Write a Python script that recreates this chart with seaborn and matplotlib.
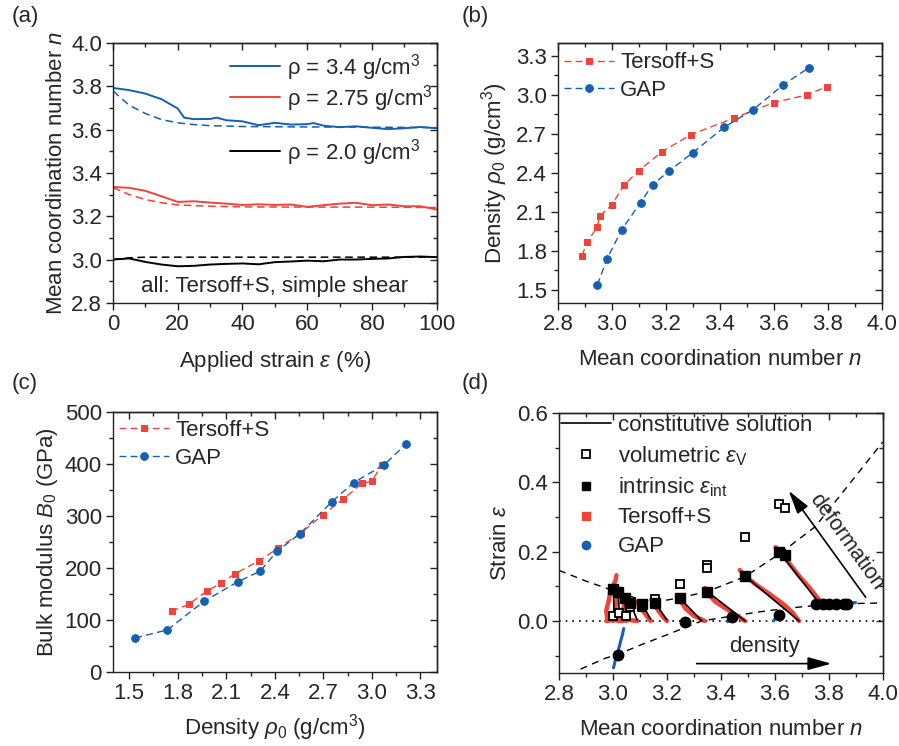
import numpy as np
import matplotlib
matplotlib.use("Agg")
import matplotlib.pyplot as plt
import seaborn as sns
from matplotlib.ticker import MultipleLocator
from matplotlib.lines import Line2D

# ---------------- data ----------------
# (a) coordination number vs applied strain
strain = [0, 5, 10, 15, 20, 22, 25, 30, 32, 35, 40, 45, 50, 55, 60, 62, 65, 70, 75, 80, 85, 90, 95, 100]
n_34 = [3.792, 3.782, 3.766, 3.740, 3.697, 3.655, 3.648, 3.649, 3.655, 3.643, 3.638, 3.620, 3.631,
        3.623, 3.625, 3.630, 3.618, 3.611, 3.615, 3.608, 3.602, 3.606, 3.612, 3.606]
strain_b = [0, 5, 10, 15, 20, 25, 30, 35, 40, 45, 50, 55, 60, 65, 70, 75, 80, 85, 90, 95, 100]
n_275 = [3.335, 3.331, 3.317, 3.292, 3.266, 3.269, 3.263, 3.258, 3.252, 3.255, 3.252, 3.254, 3.243,
         3.251, 3.258, 3.262, 3.251, 3.254, 3.246, 3.246, 3.231]
n_20 = [3.000, 3.005, 2.989, 2.977, 2.969, 2.971, 2.977, 2.980, 2.982, 2.978, 2.988, 2.991, 2.995,
        2.992, 3.000, 3.000, 3.003, 3.005, 3.012, 3.014, 3.011]
strain_fit = [0, 5, 10, 15, 20, 25, 30, 40, 60, 80, 100]
fit_34 = [3.778, 3.712, 3.674, 3.646, 3.631, 3.623, 3.618, 3.614, 3.612, 3.611, 3.609]
fit_275 = [3.332, 3.300, 3.277, 3.262, 3.252, 3.249, 3.246, 3.243, 3.242, 3.242, 3.240]
fit_20 = [3.000, 3.008, 3.011, 3.011, 3.011, 3.011, 3.011, 3.011, 3.011, 3.011, 3.011]

# (b), (c) Tersoff+S and GAP
ters_n = [2.889, 2.908, 2.945, 2.955, 3.000, 3.044, 3.100, 3.186, 3.294, 3.451, 3.601, 3.722, 3.796]
ters_rho = [1.762, 1.867, 1.982, 2.069, 2.154, 2.305, 2.418, 2.564, 2.695, 2.821, 2.941, 3.000, 3.062]
ters_B = [117, 130, 156, 171, 189, 214, 238, 268, 302, 332, 363, 367, 399]
gap_n = [2.946, 2.981, 3.036, 3.106, 3.151, 3.211, 3.300, 3.416, 3.524, 3.635, 3.731]
gap_rho = [1.538, 1.736, 1.962, 2.172, 2.310, 2.413, 2.556, 2.751, 2.887, 3.077, 3.210]
gap_B = [65.5, 81, 136, 173.5, 194, 232, 266, 327, 364, 399, 438]

# (d) strain vs coordination number
upper_n = [2.80, 2.90, 3.00, 3.10, 3.16, 3.25, 3.35, 3.49, 3.62, 3.75, 3.82, 3.90, 4.00]
upper_eps = [0.146, 0.115, 0.088, 0.062, 0.055, 0.067, 0.085, 0.128, 0.195, 0.272, 0.340, 0.418, 0.516]
lower_n = [2.88, 2.97, 3.02, 3.10, 3.20, 3.27, 3.33, 3.44, 3.55, 3.65, 3.77, 3.88, 4.00]
lower_eps = [-0.139, -0.108, -0.096, -0.070, -0.040, -0.018, 0.000, 0.014, 0.027, 0.037, 0.046, 0.050, 0.052]

vol_n = [3.002, 3.023, 3.048, 3.064, 3.107, 3.157, 3.249, 3.349, 3.349, 3.488, 3.616, 3.638]
vol_eps = [0.0135, 0.023, 0.0135, 0.040, 0.040, 0.062, 0.106, 0.161, 0.153, 0.241, 0.337, 0.326]
int_n = [3.002, 3.020, 3.045, 3.064, 3.107, 3.157, 3.249, 3.350, 3.489, 3.617, 3.638]
int_eps = [0.093, 0.084, 0.065, 0.052, 0.050, 0.052, 0.065, 0.085, 0.130, 0.200, 0.189]
gap_int_n = [3.017, 3.266, 3.442, 3.616, 3.754, 3.779, 3.801, 3.826, 3.857, 3.867]
gap_int_eps = [-0.099, -0.004, 0.012, 0.018, 0.050, 0.050, 0.050, 0.050, 0.050, 0.050]

ters_traj = [
    ([2.980, 2.975, 2.985, 2.990, 3.000, 3.010, 3.013], [0.000, 0.030, 0.060, 0.085, 0.100, 0.118, 0.132]),
    ([3.000, 3.005, 3.010, 3.015, 3.020, 3.025], [0.000, 0.020, 0.045, 0.065, 0.080, 0.092]),
    ([3.020, 3.030, 3.040, 3.050], [0.000, 0.020, 0.040, 0.065]),
    ([3.050, 3.055, 3.065, 3.075], [0.000, 0.015, 0.035, 0.055]),
    ([2.975, 3.000, 3.030, 3.060, 3.090], [0.000, 0.003, 0.000, 0.003, 0.000]),
    ([3.090, 3.100, 3.115, 3.130, 3.140], [0.055, 0.040, 0.025, 0.010, 0.000]),
    ([3.143, 3.155, 3.170, 3.185, 3.200], [0.062, 0.045, 0.028, 0.012, 0.000]),
    ([3.237, 3.250, 3.270, 3.300, 3.340], [0.070, 0.058, 0.035, 0.015, 0.000]),
    ([3.342, 3.350, 3.380, 3.420, 3.460, 3.490], [0.095, 0.080, 0.055, 0.035, 0.015, 0.000]),
    ([3.470, 3.490, 3.530, 3.580, 3.630, 3.665, 3.690], [0.147, 0.130, 0.105, 0.078, 0.050, 0.025, 0.000]),
    ([3.603, 3.620, 3.650, 3.690, 3.730, 3.760, 3.780], [0.213, 0.200, 0.170, 0.130, 0.095, 0.065, 0.050]),
]
gap_traj = [
    ([3.002, 3.010, 3.020, 3.028, 3.035, 3.040], [-0.135, -0.110, -0.085, -0.060, -0.040, -0.022]),
    ([3.425, 3.440, 3.450], [-0.002, 0.006, 0.012]),
    ([3.595, 3.605, 3.615], [0.000, 0.010, 0.020]),
    ([3.760, 3.800], [0.045, 0.047]),
    ([3.860, 3.880, 3.900], [0.050, 0.052, 0.053]),
]
const_lines = [
    ([3.002, 3.004], [0.093, 0.013]),
    ([3.020, 3.023], [0.084, 0.023]),
    ([3.045, 3.048], [0.065, 0.013]),
    ([3.064, 3.090], [0.052, 0.003]),
    ([3.107, 3.140], [0.050, 0.005]),
    ([3.157, 3.200], [0.052, 0.003]),
    ([3.249, 3.330], [0.065, 0.000]),
    ([3.350, 3.490], [0.085, 0.000]),
    ([3.489, 3.690], [0.130, 0.000]),
    ([3.621, 3.763], [0.195, 0.053]),
]

red = "#F0443A"
blue = "#1560B0"
FS = 16

# ---------------- style ----------------
sns.set_style("ticks")
plt.rcParams["font.family"] = ["Liberation Sans", "DejaVu Sans"]
plt.rcParams["mathtext.fontset"] = "custom"
plt.rcParams["mathtext.rm"] = "Liberation Sans"
plt.rcParams["mathtext.it"] = "Liberation Sans:italic"
plt.rcParams["font.size"] = FS
plt.rcParams["axes.linewidth"] = 1.0
plt.rcParams["axes.edgecolor"] = "#222222"


def setup_ticks(ax, xmaj, xmin, ymaj, ymin):
    ax.xaxis.set_major_locator(MultipleLocator(xmaj))
    ax.xaxis.set_minor_locator(MultipleLocator(xmin))
    ax.yaxis.set_major_locator(MultipleLocator(ymaj))
    ax.yaxis.set_minor_locator(MultipleLocator(ymin))
    ax.tick_params(which="both", direction="out", labelsize=FS, color="#222222", pad=3)
    ax.tick_params(which="major", length=5, width=1)
    ax.tick_params(which="minor", length=3, width=1)
    top = ax.secondary_xaxis("top")
    top.xaxis.set_major_locator(MultipleLocator(xmaj))
    top.xaxis.set_minor_locator(MultipleLocator(xmin))
    top.tick_params(which="both", direction="in", labeltop=False, color="#222222")
    top.tick_params(which="major", length=5, width=1)
    top.tick_params(which="minor", length=3, width=1)
    right = ax.secondary_yaxis("right")
    right.yaxis.set_major_locator(MultipleLocator(ymaj))
    right.yaxis.set_minor_locator(MultipleLocator(ymin))
    right.tick_params(which="both", direction="in", labelright=False, color="#222222")
    right.tick_params(which="major", length=5, width=1)
    right.tick_params(which="minor", length=3, width=1)


leg_kw = dict(frameon=False, fontsize=FS, handlelength=2.25, handletextpad=0.3)

fig = plt.figure(figsize=(8.99, 7.46), dpi=100)
ax_a = fig.add_axes([0.1257, 0.594, 0.360, 0.3485])
ax_b = fig.add_axes([0.6207, 0.594, 0.360, 0.3485])
ax_c = fig.add_axes([0.1257, 0.0992, 0.360, 0.3485])
ax_d = fig.add_axes([0.6218, 0.0979, 0.360, 0.3485])

# ---------------- (a) ----------------
ax = ax_a
sns.lineplot(x=strain, y=n_34, color=blue, lw=1.4, ax=ax, label="ρ = 3.4 g/cm$^3$")
sns.lineplot(x=strain_b, y=n_275, color=red, lw=1.4, ax=ax, label="ρ = 2.75 g/cm$^3$")
sns.lineplot(x=strain_b, y=n_20, color="black", lw=1.4, ax=ax, label="ρ = 2.0 g/cm$^3$")
ax.plot(strain_fit, fit_34, color=blue, lw=1.1, ls=(0, (5, 3)))
ax.plot(strain_fit, fit_275, color=red, lw=1.1, ls=(0, (5, 3)))
ax.plot(strain_fit, fit_20, color="black", lw=1.1, ls=(0, (5, 3)))
ax.set_xlim(0, 100)
ax.set_ylim(2.8, 4.0)
setup_ticks(ax, 20, 10, 0.2, 0.1)
ax.set_xlabel("Applied strain $\\varepsilon$ (%)", fontsize=FS, labelpad=10)
ax.set_ylabel("Mean coordination number $n$", fontsize=FS, labelpad=3)
h, l = ax.get_legend_handles_labels()
leg1 = ax.legend(h[:2], l[:2], loc="upper left", bbox_to_anchor=(0.335, 1.0), borderaxespad=0,
                 labelspacing=0.0, **leg_kw)
ax.add_artist(leg1)
ax.legend(h[2:], l[2:], loc="center left", bbox_to_anchor=(0.335, 0.58), borderaxespad=0, **leg_kw)
ax.text(50, 2.875, "all: Tersoff+S, simple shear", ha="center", va="center", fontsize=FS)

# ---------------- (b) ----------------
ax = ax_b
sns.lineplot(x=ters_n, y=ters_rho, sort=False, estimator=None, color=red, lw=1.0, ls=(0, (5, 3)),
             marker="s", markersize=5, markeredgecolor=red, ax=ax, label="Tersoff+S")
sns.lineplot(x=gap_n, y=gap_rho, sort=False, estimator=None, color=blue, lw=1.0, ls=(0, (5, 3)),
             marker="o", markersize=5.5, markeredgecolor=blue, ax=ax, label="GAP")
ax.set_xlim(2.8, 4.0)
ax.set_ylim(1.4, 3.4)
setup_ticks(ax, 0.2, 0.1, 0.3, 0.15)
ax.set_xlabel("Mean coordination number $n$", fontsize=FS, labelpad=10)
ax.set_ylabel("Density $\\rho_0$ (g/cm$^3$)", fontsize=FS, labelpad=4)
ax.legend(loc="upper left", bbox_to_anchor=(0, 0.985), borderaxespad=0, borderpad=0.25,
          labelspacing=0.3, **leg_kw)

# ---------------- (c) ----------------
ax = ax_c
sns.lineplot(x=ters_rho, y=ters_B, sort=False, estimator=None, color=red, lw=1.0, ls=(0, (5, 3)),
             marker="s", markersize=5, markeredgecolor=red, ax=ax, label="Tersoff+S")
sns.lineplot(x=gap_rho, y=gap_B, sort=False, estimator=None, color=blue, lw=1.0, ls=(0, (5, 3)),
             marker="o", markersize=5.5, markeredgecolor=blue, ax=ax, label="GAP")
ax.set_xlim(1.4, 3.4)
ax.set_ylim(0, 500)
setup_ticks(ax, 0.3, 0.15, 100, 50)
ax.set_xlabel("Density $\\rho_0$ (g/cm$^3$)", fontsize=FS, labelpad=6)
ax.set_ylabel("Bulk modulus $B_0$ (GPa)", fontsize=FS, labelpad=3)
ax.legend(loc="upper left", bbox_to_anchor=(0, 0.99), borderaxespad=0, borderpad=0.25,
          labelspacing=0.3, **leg_kw)

# ---------------- (d) ----------------
ax = ax_d
ax.axhline(0, color="black", lw=1.2, ls=(0, (1, 3)))
ax.plot(upper_n, upper_eps, color="black", lw=1.0, ls=(0, (5, 4)))
ax.plot(lower_n, lower_eps, color="black", lw=1.0, ls=(0, (5, 4)))
for xs, ys in ters_traj:
    sns.lineplot(x=xs, y=ys, sort=False, estimator=None, color=red, lw=3.2, ax=ax,
                 solid_capstyle="round")
for xs, ys in gap_traj:
    sns.lineplot(x=xs, y=ys, sort=False, estimator=None, color=blue, lw=2.2, ax=ax,
                 solid_capstyle="round")
for xs, ys in const_lines:
    ax.plot(xs, ys, color="black", lw=1.2)
ax.plot(vol_n, vol_eps, ls="none", marker="s", markersize=6, mfc="white", mec="black", mew=1.3)
ax.plot(int_n, int_eps, ls="none", marker="s", markersize=6.5, mfc="black", mec="black")
ax.plot(gap_int_n, gap_int_eps, ls="none", marker="o", markersize=7.5, mfc="black", mec="black")
ax.set_xlim(2.8, 4.0)
ax.set_ylim(-0.15, 0.6)
setup_ticks(ax, 0.2, 0.1, 0.2, 0.1)
ax.set_xlabel("Mean coordination number $n$", fontsize=FS, labelpad=10)
ax.set_ylabel("Strain $\\varepsilon$", fontsize=FS, labelpad=4)

handles = [
    Line2D([], [], color="black", lw=1.2),
    Line2D([], [], ls="none", marker="s", markersize=6, mfc="white", mec="black", mew=1.3),
    Line2D([], [], ls="none", marker="s", markersize=6, mfc="black", mec="black"),
    Line2D([], [], ls="none", marker="s", markersize=6, mfc=red, mec=red),
    Line2D([], [], ls="none", marker="o", markersize=6, mfc=blue, mec=blue),
]
labels = ["constitutive solution", "volumetric $\\varepsilon_\\mathrm{V}$",
          "intrinsic $\\varepsilon_\\mathrm{int}$", "Tersoff+S", "GAP"]
ax.legend(handles, labels, loc="upper left", borderaxespad=0, borderpad=0.1, labelspacing=0.36,
          **leg_kw)

ax.annotate("", xy=(3.646, 0.382), xytext=(3.943, 0.062),
            arrowprops=dict(arrowstyle="-|>,head_length=0.9,head_width=0.25", color="black", lw=1.2))
ax.text(3.868, 0.229, "deformation", rotation=-54.4, rotation_mode="anchor",
        ha="center", va="center", fontsize=15.5)
ax.annotate("", xy=(3.82, -0.123), xytext=(3.30, -0.123),
            arrowprops=dict(arrowstyle="-|>,head_length=0.9,head_width=0.25", color="black", lw=1.2))
ax.text(3.56, -0.073, "density", ha="center", va="center", fontsize=FS)

# panel labels
fig.text(0.013, 0.992, "(a)", fontsize=FS, va="top")
fig.text(0.513, 0.992, "(b)", fontsize=FS, va="top")
fig.text(0.013, 0.500, "(c)", fontsize=FS, va="top")
fig.text(0.513, 0.500, "(d)", fontsize=FS, va="top")

fig.savefig("out.png", dpi=100)
